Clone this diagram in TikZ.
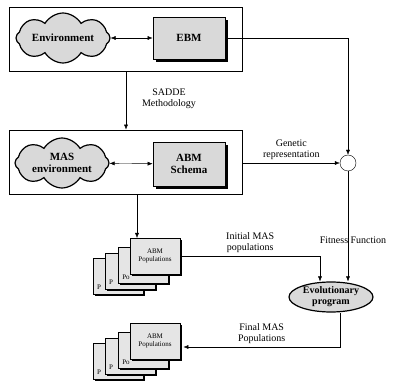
\documentclass[tikz,border=0pt]{standalone}
\usepackage{fontspec}
\setmainfont{Liberation Serif}
\usetikzlibrary{arrows.meta, shapes.symbols, shapes.geometric, shadows}

\begin{document}
\begin{tikzpicture}[x=1pt, y=-1pt, >={Latex[length=5pt, width=4pt]},
  every node/.style={font=\fontsize{10}{11}\selectfont},
  frame/.style={draw, line width=0.8pt, minimum width=233pt, minimum height=64pt},
  puff/.style={draw, cloud, cloud puffs=8, cloud puff arc=120, cloud ignores aspect,
    line width=1.2pt, fill=gray!30, minimum width=94pt, minimum height=50pt,
    inner sep=0pt, align=center, font=\fontsize{11}{12}\selectfont\bfseries},
  shbox/.style={draw, line width=0.8pt, fill=gray!30, minimum width=72pt, minimum height=42pt,
    align=center, font=\fontsize{11}{12}\selectfont\bfseries,
    drop shadow={shadow xshift=3pt, shadow yshift=-3pt, fill=black, opacity=1}},
  card/.style={draw, line width=0.8pt, fill=gray!20, minimum width=50pt, minimum height=36pt,
    align=center, font=\fontsize{7}{8}\selectfont,
    drop shadow={shadow xshift=2pt, shadow yshift=-2pt, fill=black, opacity=1}},
  frag/.style={font=\fontsize{7}{8}\selectfont, inner sep=0pt},
  lbl/.style={align=center}]

\useasboundingbox (0,0) rectangle (394,385);

% Define the two model boxes
\node[frame] (topbox) at (126,39) {};
\node[puff] (env) at (63,38) {Environment};
\node[shbox] (ebm) at (189,38) {EBM};
\draw[<->] (env) -- (ebm);

\node[frame] (masbox) at (126,162) {};
\node[puff] (mas) at (62,163) {MAS\\environment};
\node[shbox, minimum height=44pt] (abm) at (189,164) {ABM\\Schema};
\draw[<->] (mas) -- (abm);

\draw[->] (topbox) -- (masbox);
\node[lbl] (saddelbl) at (169,99) {SADDE\\Methodology};

% Join point and evolutionary program
\node[draw, circle, fill=white, minimum size=16pt, inner sep=0pt] (join) at (348,163) {};
\node[draw, ellipse, line width=1.2pt, fill=gray!30, minimum width=84pt, minimum height=30pt,
  inner sep=0pt, align=center, font=\fontsize{10}{11}\selectfont\bfseries] (evo) at (331,297) {Evolutionary\\program};

\draw[->] (ebm.east) -| (join.north);
\draw[->] (masbox.east |- join) -- node[midway, above, lbl] {Genetic\\representation} (join.west);
\draw[->] (join.south) -- (join.south |- evo.north);
\node[lbl] (fitlbl) at (353,240) {Fitness Function};

% First stack of populations
\node[card] (pop1d) at (118,276) {};
\node[frag] (frag1d) at (99,287) {P};
\node[card] (pop1c) at (130,271) {};
\node[frag] (frag1c) at (111,282) {P};
\node[card] (pop1b) at (143,265) {};
\node[frag] (frag1b) at (126,277) {Po};
\node[card] (pop1a) at (155,256) {ABM\\Populations};
\coordinate (drop) at (137,238);
\draw[->] (masbox.south -| drop) -- (drop);
\draw[->] (pop1a.east) -| node[pos=0.25, above, lbl] {Initial MAS\\populations} ([xshift=-11pt]evo.north);

% Second stack of populations
\node[card] (pop2d) at (118,361) {};
\node[frag] (frag2d) at (99,372) {P};
\node[card] (pop2c) at (130,356) {};
\node[frag] (frag2c) at (111,367) {P};
\node[card] (pop2b) at (143,350) {};
\node[frag] (frag2b) at (126,362) {Po};
\node[card] (pop2a) at (155,341) {ABM\\Populations};
\draw[->] ([xshift=9pt]evo.south) |- node[pos=0.75, above, lbl] {Final MAS\\Populations} ([xshift=3pt, yshift=-6pt]pop2a.east);

\end{tikzpicture}
\end{document}
